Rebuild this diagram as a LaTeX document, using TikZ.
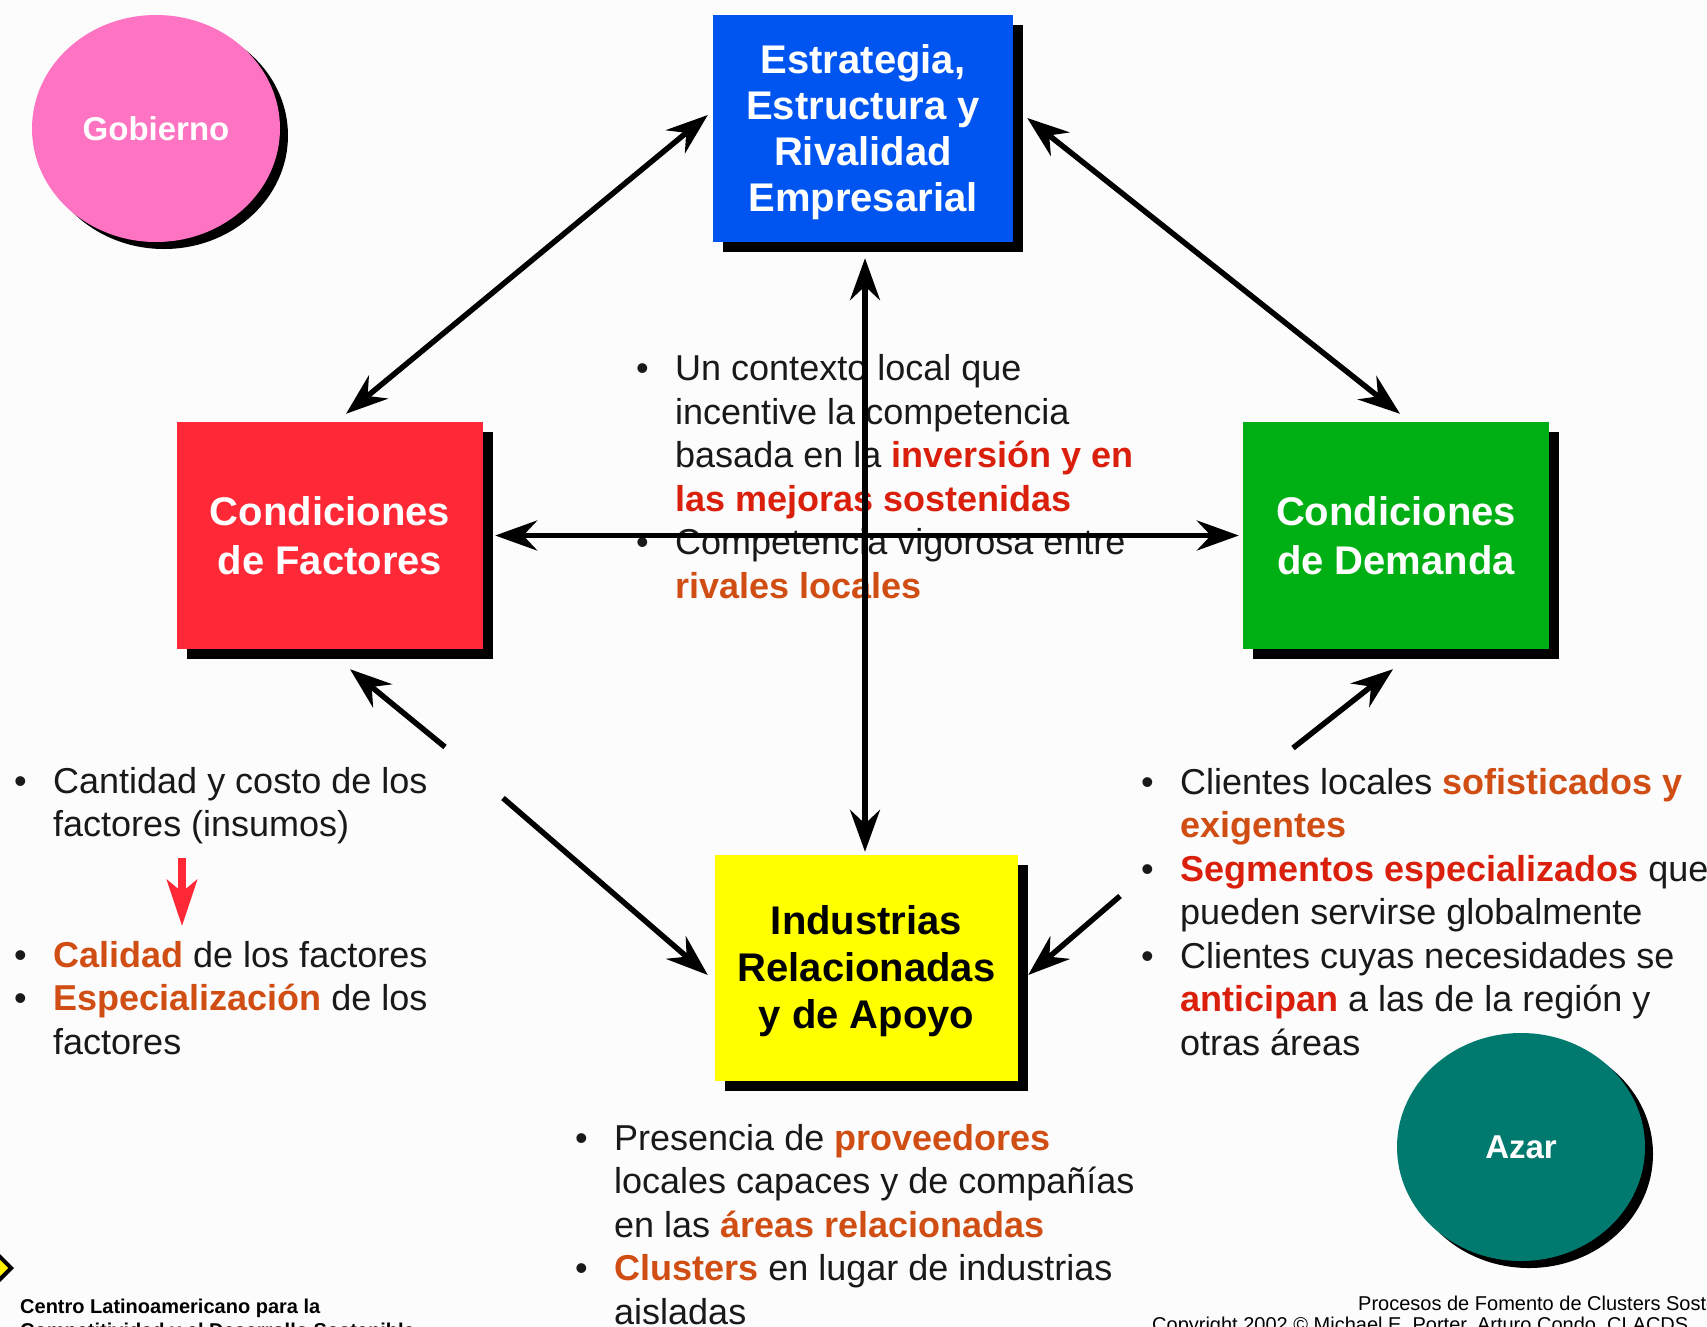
\documentclass[tikz,border=0pt]{standalone}
\usepackage{fontspec}
\setmainfont{Liberation Sans}
\usetikzlibrary{arrows.meta,shapes.geometric,shadows}
\definecolor{bg}{RGB}{252,252,252}
\definecolor{txt}{RGB}{25,25,25}
\definecolor{hred}{RGB}{218,32,12}
\definecolor{horg}{RGB}{208,78,20}
\definecolor{bluebox}{RGB}{0,85,240}
\definecolor{redbox}{RGB}{255,40,55}
\definecolor{greenbox}{RGB}{0,175,20}
\definecolor{yellowbox}{RGB}{255,255,0}
\definecolor{pinkc}{RGB}{255,115,195}
\definecolor{tealc}{RGB}{0,122,110}
\definecolor{redarr}{RGB}{255,40,55}
\newcommand\hR[1]{{\bfseries\color{hred}#1}}
\newcommand\hO[1]{{\bfseries\color{horg}#1}}
\newcommand\bu{\makebox[39pt][l]{•}}
\newcommand\sk{\hspace*{39pt}}
\newcommand\tallstrut{\rule{0pt}{30pt}}
\begin{document}
\begin{tikzpicture}[x=1pt,y=-1pt,
  box/.style={rectangle, inner sep=0pt, text=white, align=center,
    drop shadow={shadow xshift=10pt,shadow yshift=-10pt,opacity=1,fill=black}},
  oval/.style={ellipse, inner sep=0pt, text=white,
    font=\bfseries\fontsize{33}{40}\selectfont,
    drop shadow={shadow xshift=8pt,shadow yshift=-7pt,opacity=1,fill=black}},
  body/.style={anchor=north west, inner sep=0pt, align=left, text=txt,
    font=\fontsize{36}{43.5}\selectfont},
  foot/.style={anchor=base west, inner sep=0pt, text=black},
  biarr/.style={line width=5.5pt,
    {Stealth[length=42pt,width=30pt,inset=14pt]}-{Stealth[length=42pt,width=30pt,inset=14pt]}},
  onearr/.style={line width=5.5pt, -{Stealth[length=42pt,width=30pt,inset=14pt]}},
  redarrow/.style={line width=8pt, draw=redarr, -{Stealth[length=46pt,width=30pt,inset=12pt]}}
]
\useasboundingbox (0,0) rectangle (1707,1326);
\fill[bg] (0,0) rectangle (1707,1326);
\clip (0,0) rectangle (1707,1326);

% ellipses
\node[oval, fill=pinkc, minimum width=248, minimum height=227] (gob) at (156,128.5) {Gobierno};
\node[oval, fill=tealc, minimum width=248, minimum height=228] (azar) at (1521,1147) {Azar};

% boxes
\node[box, fill=bluebox, minimum width=300, minimum height=227,
  font=\bfseries\fontsize{40}{46}\selectfont] (est) at (863,128.5)
  {\rule{0pt}{37pt}Estrategia,\\Estructura y\\Rivalidad\\Empresarial};
\node[box, fill=redbox, minimum width=306, minimum height=227,
  font=\bfseries\fontsize{40}{49}\selectfont] (fac) at (330,535.5)
  {Condiciones\\de Factores};
\node[box, fill=greenbox, minimum width=306, minimum height=227,
  font=\bfseries\fontsize{40}{49}\selectfont] (dem) at (1396,535.5)
  {Condiciones\\de Demanda};
\node[box, fill=yellowbox, text=black, minimum width=303, minimum height=226,
  font=\bfseries\fontsize{40}{47}\selectfont] (ind) at (866.5,968)
  {\rule{0pt}{35pt}Industrias\\Relacionadas\\y de Apoyo};

% text blocks
\node[body] (tcen) at (636,350.5)
  {\tallstrut\bu Un contexto local que\\
   \sk incentive la competencia\\
   \sk basada en la \hR{inversión y en}\\
   \sk \hR{las mejoras sostenidas}\\
   \bu Competencia vigorosa entre\\
   \sk \hO{rivales locales}};
\node[body] (tleft) at (14,763)
  {\tallstrut\bu Cantidad y costo de los\\
   \sk factores (insumos)\\[87pt]
   \bu \hO{Calidad} de los factores\\
   \bu \hO{Especialización} de los\\
   \sk factores};
\node[body] (tright) at (1141,764)
  {\tallstrut\bu Clientes locales \hO{sofisticados y}\\
   \sk \hO{exigentes}\\
   \bu \hR{Segmentos especializados} que\\
   \sk pueden servirse globalmente\\
   \bu Clientes cuyas necesidades se\\
   \sk \hR{anticipan} a las de la región y\\
   \sk otras áreas};
\node[body] (tbot) at (575,1120)
  {\tallstrut\bu Presencia de \hO{proveedores}\\
   \sk locales capaces y de compañías\\
   \sk en las \hO{áreas relacionadas}\\
   \bu \hO{Clusters} en lugar de industrias\\
   \sk aisladas};

% footer
\node[diamond, draw=black, line width=4pt, fill=yellow, minimum width=40, minimum height=40, inner sep=0pt] (logo) at (-8,1268) {};
\node[foot, font=\bfseries\fontsize{20}{24}\selectfont] (ft1) at (20,1313) {Centro Latinoamericano para la};
\node[foot, font=\bfseries\fontsize{20}{24}\selectfont] (ft2) at (20,1337) {Competitividad y el Desarrollo Sostenible};
\node[foot, font=\fontsize{20}{24}\selectfont] (ft3) at (1358,1310) {Procesos de Fomento de Clusters Sostenibles};
\node[foot, font=\fontsize{20}{24}\selectfont] (ft4) at (1152,1331) {Copyright 2002 © Michael E. Porter, Arturo Condo, CLACDS};

% arrow end points
\coordinate (tl1) at ([shift={(16,-8)}]fac.north);
\coordinate (tl2) at ([shift={(-5,-13.5)}]est.west);
\coordinate (tr1) at ([shift={(14,-10.5)}]est.east);
\coordinate (tr2) at ([shift={(4,-8)}]dem.north);
\coordinate (h1) at ([shift={(12,0)}]fac.east);
\coordinate (h2) at ([shift={(-4,0)}]dem.west);
\coordinate (v1) at ([shift={(2,16)}]est.south);
\coordinate (v2) at ([shift={(-1.5,-3)}]ind.north);
\coordinate (fb1) at (445,747);
\coordinate (fb2) at ([shift={(20,20)}]fac.south);
\coordinate (ll1) at (503,798);
\coordinate (ll2) at ([shift={(-7,7)}]ind.west);
\coordinate (db1) at (1293,748);
\coordinate (db2) at ([shift={(-3,20)}]dem.south);
\coordinate (lr1) at (1120,896);
\coordinate (lr2) at ([shift={(10,7)}]ind.east);
\coordinate (ra1) at (182,858);
\coordinate (ra2) at (182,926);

% connectors
\draw[biarr] (tl1) -- (tl2);
\draw[biarr] (tr1) -- (tr2);
\draw[biarr] (h1) -- (h2);
\draw[biarr] (v1) -- (v2);
\draw[onearr] (fb1) -- (fb2);
\draw[onearr] (ll1) -- (ll2);
\draw[onearr] (db1) -- (db2);
\draw[onearr] (lr1) -- (lr2);
\draw[redarrow] (ra1) -- (ra2);
\end{tikzpicture}
\end{document}
